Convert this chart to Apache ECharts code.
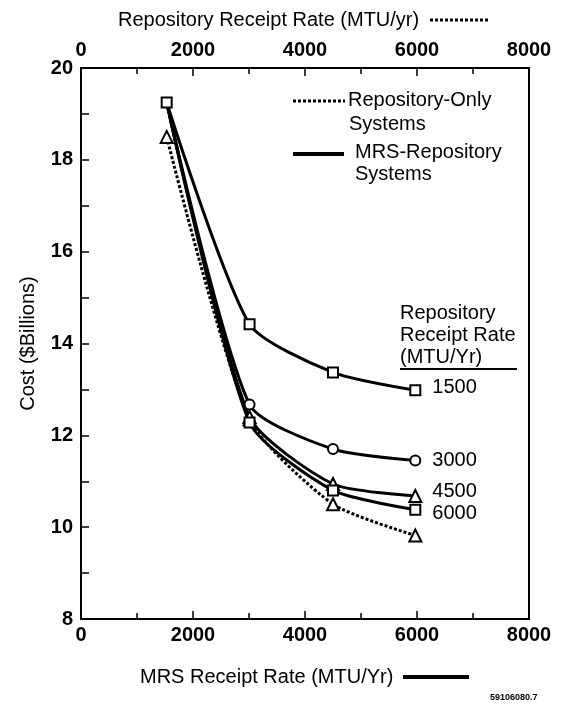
<!DOCTYPE html>
<html>
<head>
<meta charset="utf-8">
<script src="https://cdn.jsdelivr.net/npm/echarts@6/dist/echarts.min.js"></script>
<style>
  html, body { margin: 0; padding: 0; background: #fff; }
  #chart { width: 564px; height: 705px; }
</style>
</head>
<body>
<div id="chart"></div>
<script>
// MRS receipt rate (MTU/yr) on the bottom axis; repository-only uses the top axis
const mrsRate = [1530, 3010, 4500, 5970];
const repoRate = [1530, 3010, 4500, 5970];

// cost ($ billions) for each repository receipt rate
const cost1500 = [19.25, 14.42, 13.37, 12.98];
const cost3000 = [19.25, 12.67, 11.70, 11.45];
const cost4500 = [19.25, 12.40, 10.94, 10.68];
const cost6000 = [19.25, 12.28, 10.80, 10.38];
const costRepoOnly = [18.5, 12.35, 10.50, 9.82];

const xTicks = [0, 2000, 4000, 6000, 8000];
const yTicks = [8, 10, 12, 14, 16, 18, 20];

const FONT = '"Liberation Sans", Arial, sans-serif';

function pts(xs, ys, hideFirst) {
    return xs.map(function (x, i) {
        const p = { value: [x, ys[i]] };
        if (hideFirst && i === 0) p.symbol = 'none';
        return p;
    });
}

function mrsSeries(name, ys, symbol, size, dy, hideFirst) {
    return {
        name: name,
        type: 'line',
        xAxisIndex: 0,
        smooth: 0.22,
        symbol: symbol,
        symbolSize: size,
        lineStyle: { color: '#000', width: 3 },
        itemStyle: { color: '#fff', borderColor: '#000', borderWidth: 2 },
        data: pts(mrsRate, ys, hideFirst),
        endLabel: {
            show: true,
            formatter: name,
            color: '#000',
            fontFamily: FONT,
            fontSize: 20,
            distance: 17,
            offset: [0, dy]
        },
        z: 3
    };
}

const chart = echarts.init(document.getElementById('chart'), null, { renderer: 'canvas' });

const axisLabel = {
    color: '#000', fontFamily: FONT, fontSize: 20, fontWeight: 'bold',
    formatter: function (v) { return String(v); }
};

chart.setOption({
    animation: false,
    backgroundColor: '#fff',
    grid: {
        left: 81, right: 35, top: 68, bottom: 86,
        show: true, borderColor: '#000', borderWidth: 2
    },
    xAxis: [{
        type: 'value', position: 'bottom',
        min: xTicks[0], max: xTicks[xTicks.length - 1], interval: 2000,
        axisLine: { show: true, lineStyle: { color: '#000', width: 2 } },
        axisTick: { show: true, inside: true, length: 8, lineStyle: { color: '#000', width: 1.5 } },
        minorTick: { show: true, splitNumber: 2, length: 6, lineStyle: { color: '#000', width: 1.5 } },
        splitLine: { show: false },
        axisLabel: Object.assign({ margin: 6 }, axisLabel)
    }, {
        type: 'value', position: 'top',
        min: xTicks[0], max: xTicks[xTicks.length - 1], interval: 2000,
        axisLine: { show: true, lineStyle: { color: '#000', width: 2 } },
        axisTick: { show: true, inside: true, length: 8, lineStyle: { color: '#000', width: 1.5 } },
        minorTick: { show: true, splitNumber: 2, length: 6, lineStyle: { color: '#000', width: 1.5 } },
        splitLine: { show: false },
        axisLabel: Object.assign({ margin: 8 }, axisLabel)
    }],
    yAxis: {
        type: 'value',
        min: yTicks[0], max: yTicks[yTicks.length - 1], interval: 2,
        name: 'Cost ($Billions)',
        nameLocation: 'middle',
        nameGap: 43,
        nameTextStyle: { color: '#000', fontFamily: FONT, fontSize: 20 },
        axisLine: { show: true, lineStyle: { color: '#000', width: 2 } },
        axisTick: { show: true, inside: true, length: 8, lineStyle: { color: '#000', width: 1.5 } },
        minorTick: { show: true, splitNumber: 2, length: 8, lineStyle: { color: '#000', width: 1.5 } },
        splitLine: { show: false },
        axisLabel: Object.assign({ margin: 8 }, axisLabel)
    },
    series: [
        mrsSeries('1500', cost1500, 'rect', 10, -3, false),
        mrsSeries('3000', cost3000, 'circle', 10, 0, true),
        mrsSeries('4500', cost4500, 'triangle', 12, -4, true),
        mrsSeries('6000', cost6000, 'rect', 10, 4, true),
        {
            name: 'Repository-Only',
            type: 'line',
            xAxisIndex: 1,
            smooth: 0.22,
            symbol: 'triangle',
            symbolSize: 12,
            lineStyle: { color: '#000', width: 3, type: [3, 2] },
            itemStyle: { color: '#fff', borderColor: '#000', borderWidth: 2 },
            data: pts(repoRate, costRepoOnly, false),
            z: 2
        }
    ],
    graphic: [
        // top axis title
        { type: 'text', x: 118, y: 20, style: { text: 'Repository Receipt Rate (MTU/yr)', fill: '#000', font: '20px ' + FONT, verticalAlign: 'middle' } },
        { type: 'line', shape: { x1: 430, y1: 20, x2: 488, y2: 20 }, style: { stroke: '#000', lineWidth: 3, lineDash: [3, 2] } },
        // bottom axis title
        { type: 'text', x: 140, y: 677, style: { text: 'MRS Receipt Rate (MTU/Yr)', fill: '#000', font: '20px ' + FONT, verticalAlign: 'middle' } },
        { type: 'line', shape: { x1: 403, y1: 677, x2: 469, y2: 677 }, style: { stroke: '#000', lineWidth: 4 } },
        { type: 'text', x: 490, y: 698, style: { text: '59106080.7', fill: '#000', font: 'bold 9px ' + FONT, verticalAlign: 'middle' } },
        // legend
        { type: 'line', shape: { x1: 293, y1: 101, x2: 345, y2: 101 }, style: { stroke: '#000', lineWidth: 3, lineDash: [3, 2] } },
        { type: 'text', x: 348, y: 100, style: { text: 'Repository-Only', fill: '#000', font: '20px ' + FONT, verticalAlign: 'middle' } },
        { type: 'text', x: 349, y: 124, style: { text: 'Systems', fill: '#000', font: '20px ' + FONT, verticalAlign: 'middle' } },
        { type: 'line', shape: { x1: 293, y1: 154, x2: 344, y2: 154 }, style: { stroke: '#000', lineWidth: 4 } },
        { type: 'text', x: 355, y: 152, style: { text: 'MRS-Repository', fill: '#000', font: '20px ' + FONT, verticalAlign: 'middle' } },
        { type: 'text', x: 355, y: 174, style: { text: 'Systems', fill: '#000', font: '20px ' + FONT, verticalAlign: 'middle' } },
        // repository receipt rate key header
        { type: 'text', x: 400, y: 313, style: { text: 'Repository', fill: '#000', font: '20px ' + FONT, verticalAlign: 'middle' } },
        { type: 'text', x: 400, y: 335, style: { text: 'Receipt Rate', fill: '#000', font: '20px ' + FONT, verticalAlign: 'middle' } },
        { type: 'text', x: 400, y: 357, style: { text: '(MTU/Yr)', fill: '#000', font: '20px ' + FONT, verticalAlign: 'middle' } },
        { type: 'line', shape: { x1: 400, y1: 369, x2: 517, y2: 369 }, style: { stroke: '#000', lineWidth: 2 } }
    ]
});
</script>
</body>
</html>
